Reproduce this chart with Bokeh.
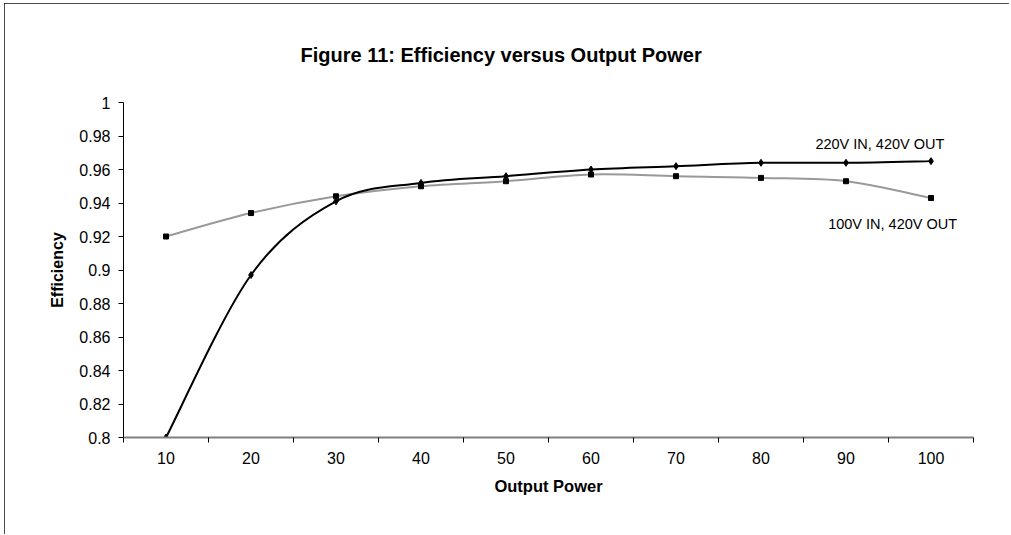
from bokeh.plotting import figure
from bokeh.models import Range1d, FixedTicker, NumeralTickFormatter, Label
from bokeh.embed import file_html
from bokeh.resources import INLINE

# ---- data ----
power = [10, 20, 30, 40, 50, 60, 70, 80, 90, 100]
eff_220 = [0.800, 0.897, 0.941, 0.952, 0.956, 0.960, 0.962, 0.964, 0.964, 0.965]
eff_100 = [0.920, 0.934, 0.944, 0.950, 0.953, 0.957, 0.956, 0.955, 0.953, 0.943]
y_ticks = [0.80, 0.82, 0.84, 0.86, 0.88, 0.90, 0.92, 0.94, 0.96, 0.98, 1.00]
title_text = "Figure 11: Efficiency versus Output Power"
x_title = "Output Power"
y_title = "Efficiency"
series_220_name = "220V IN, 420V OUT"
series_100_name = "100V IN, 420V OUT"

FONT = "Liberation Sans"

step = power[1] - power[0]
x_range = Range1d(power[0] - step / 2, power[-1] + step / 2)
y_range = Range1d(y_ticks[0], y_ticks[-1])

p = figure(width=1005, height=531, x_range=x_range, y_range=y_range,
           output_backend="svg", toolbar_location=None,
           min_border_left=119, min_border_right=36,
           min_border_top=99, min_border_bottom=97,
           margin=(3, 0, 0, 4),
           title=title_text)
p.styles = {"outline": "2px solid #111", "outline-offset": "-2px"}
p.outline_line_color = None
p.xgrid.visible = False
p.ygrid.visible = False
p.background_fill_color = "white"
p.border_fill_color = "white"

p.title.align = "left"
p.title.offset = 177
p.title.vertical_align = "top"
p.title.standoff = 70
p.title.text_font = FONT
p.title.text_font_size = "20px"
p.title.text_font_style = "bold"
p.title.text_color = "black"


def smooth(xs, ys):
    """Catmull-Rom style bezier segments through the data points (Excel smoothing)."""
    n = len(xs)
    seg = dict(x0=[], y0=[], x1=[], y1=[], cx0=[], cy0=[], cx1=[], cy1=[])
    for i in range(n - 1):
        xa, ya = (xs[i - 1], ys[i - 1]) if i > 0 else (xs[i], ys[i])
        xb, yb = (xs[i + 2], ys[i + 2]) if i + 2 < n else (xs[i + 1], ys[i + 1])
        seg["x0"].append(xs[i]); seg["y0"].append(ys[i])
        seg["x1"].append(xs[i + 1]); seg["y1"].append(ys[i + 1])
        seg["cx0"].append(xs[i] + (xs[i + 1] - xa) / 6)
        seg["cy0"].append(ys[i] + (ys[i + 1] - ya) / 6)
        seg["cx1"].append(xs[i + 1] - (xb - xs[i]) / 6)
        seg["cy1"].append(ys[i + 1] - (yb - ys[i]) / 6)
    return seg


s100 = smooth(power, eff_100)
p.bezier(line_color="#999999", line_width=2, **s100)
p.scatter(power, eff_100, marker="square", size=5, fill_color="black", line_color="black")

s220 = smooth(power, eff_220)
p.bezier(line_color="black", line_width=2, **s220)
p.scatter(power, eff_220, marker="diamond", size=7, fill_color="black", line_color="black")

# ---- axes ----
xa = p.xaxis[0]
xa.ticker = FixedTicker(ticks=power, minor_ticks=[v - step / 2 for v in power] + [power[-1] + step / 2])
xa.axis_line_color = "#808080"
xa.axis_line_width = 2
xa.major_tick_line_color = None
xa.major_tick_in = 0
xa.major_tick_out = 5
xa.minor_tick_line_color = "black"
xa.minor_tick_in = 0
xa.minor_tick_out = 5
xa.major_label_standoff = 9
xa.major_label_text_font = FONT
xa.major_label_text_font_size = "16px"
xa.major_label_text_color = "black"
xa.axis_label = x_title
xa.axis_label_text_font = FONT
xa.axis_label_text_font_size = "16.5px"
xa.axis_label_text_font_style = "bold"
xa.axis_label_text_color = "black"
xa.axis_label_standoff = 10

ya = p.yaxis[0]
ya.ticker = FixedTicker(ticks=y_ticks, minor_ticks=[])
ya.formatter = NumeralTickFormatter(format="0.[00]")
ya.axis_line_color = "black"
ya.axis_line_width = 1
ya.major_tick_line_color = "black"
ya.major_tick_in = 0
ya.major_tick_out = 5
ya.minor_tick_line_color = None
ya.major_label_standoff = 8
ya.major_label_text_font = FONT
ya.major_label_text_font_size = "16px"
ya.major_label_text_color = "black"
ya.axis_label = y_title
ya.axis_label_text_font = FONT
ya.axis_label_text_font_size = "16px"
ya.axis_label_text_font_style = "bold"
ya.axis_label_text_color = "black"
ya.axis_label_standoff = 10

# ---- series labels ----
p.add_layout(Label(x=86.4, y=0.9755, text=series_220_name, text_font=FONT,
                   text_font_size="14.5px", text_baseline="alphabetic", text_color="black"))
p.add_layout(Label(x=87.9, y=0.9272, text=series_100_name, text_font=FONT,
                   text_font_size="14.5px", text_baseline="alphabetic", text_color="black"))

open("out.html", "w").write(file_html(p, INLINE))
